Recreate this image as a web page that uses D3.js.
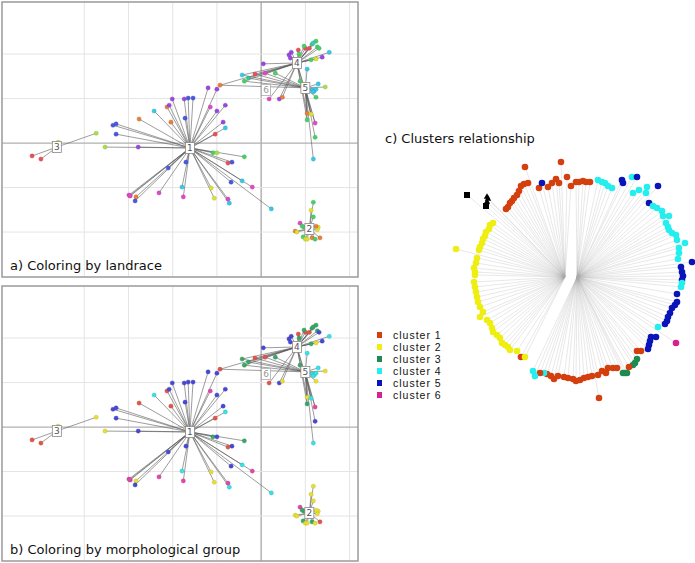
<!DOCTYPE html>
<html>
<head>
<meta charset="utf-8">
<script src="https://cdn.jsdelivr.net/npm/d3@7"></script>
<style>
  body { margin: 0; background: #fff; }
  svg { display: block; }
</style>
</head>
<body>
<div id="chart"></div>
<script>
// PCoA style star graphs (panels a, b) -- coordinates in axis units
const xTicks = [-4, -3, -2, -1, 0, 1, 2];
const yTicks = [-2, -1, 0, 1, 2];

// cluster centres: [id, x, y]
const centres = [
  [1, -1.61, -0.11], [2, 1.09, -1.93], [3, -4.62, -0.09],
  [4, 0.81, 1.80], [5, 1.00, 1.24], [6, 0.11, 1.19]
];

// accessions: [x, y, landrace colour, morphological group, parents]
const points = [
  // cluster 1
  [-2.01, 0.99, "purple", "b", [1]], [-2.13, 0.81, "orange", "r", [1]], [-2.08, 0.85, "purple", "b", [1]],
  [-2.42, 0.72, "cyan", "c", [1]], [-2.04, 0.47, "orange", "r", [1]], [-2.76, 0.54, "orange", "r", [1]],
  [-3.35, 0.40, "blue", "b", [1]], [-3.28, 0.43, "blue", "b", [1]], [-3.28, 0.20, "blue", "b", [1]],
  [-1.74, 0.99, "purple", "b", [1]], [-1.65, 1.01, "blue", "b", [1]], [-1.54, 1.01, "blue", "b", [1]],
  [-1.20, 1.24, "purple", "b", [1]], [-1.00, 1.21, "purple", "b", [1]], [-1.15, 0.81, "magenta", "m", [1]],
  [-1.00, 0.72, "purple", "b", [1]], [-0.81, 0.85, "purple", "b", [1]], [-1.72, 0.56, "blue", "b", [1]],
  [-0.86, 0.47, "purple", "b", [1]], [-0.81, 0.34, "cyan", "c", [1]], [-1.04, 0.20, "red", "r", [1]],
  [-3.53, -0.09, "ygreen", "y", [1]], [-2.78, -0.09, "purple", "b", [1]], [-2.10, -0.56, "blue", "b", [1]],
  [-2.99, -1.17, "magenta", "m", [1]], [-2.96, -1.19, "magenta", "m", [1]], [-2.97, -1.18, "magenta", "m", [1]],
  [-2.83, -1.21, "orange", "y", [1]], [-2.85, -1.30, "blue", "b", [1]], [-2.31, -1.12, "magenta", "m", [1]],
  [-0.38, -0.31, "green", "g", [1]], [-0.66, -0.43, "blue", "b", [1]], [-0.75, -0.45, "red", "r", [1]],
  [-1.09, -0.22, "green", "g", [1]], [-1.00, -0.22, "ygreen", "b", [1]], [-1.70, -0.43, "blue", "b", [1]],
  [-1.79, -0.99, "cyan", "c", [1]], [-1.76, -1.21, "magenta", "m", [1]], [-1.13, -1.01, "yellow", "y", [1]],
  [-1.06, -1.24, "yellow", "y", [1]], [-0.75, -1.26, "magenta", "m", [1]], [-0.72, -1.35, "cyan", "c", [1]],
  [-0.68, -0.88, "blue", "b", [1]], [-0.43, -0.85, "cyan", "c", [1]], [-0.20, -0.99, "magenta", "m", [1]],
  [0.23, -1.48, "cyan", "c", [1]],
  // cluster 3
  [-4.59, 0.02, "yellow", "y", [3]], [-5.18, -0.29, "red", "r", [3]], [-4.98, -0.36, "red", "r", [3]],
  [-3.73, 0.22, "ygreen", "y", [3]],
  // cluster 2
  [1.18, -1.33, "green", "y", [2]], [1.13, -1.51, "yellow", "y", [2]], [1.18, -1.66, "green", "y", [2]],
  [0.88, -1.80, "magenta", "m", [2]], [0.77, -1.98, "orange", "y", [2]], [0.81, -2.00, "yellow", "y", [2]],
  [0.95, -2.11, "green", "g", [2]], [1.00, -2.16, "yellow", "y", [2]], [1.04, -2.16, "yellow", "y", [2]],
  [1.15, -2.13, "orange", "g", [2]], [1.22, -2.16, "green", "y", [2]], [1.33, -2.13, "orange", "r", [2]],
  [1.29, -1.89, "yellow", "y", [2]], [1.27, -1.95, "yellow", "y", [2]], [0.97, -1.89, "green", "g", [2]],
  [1.24, -1.87, "orange", "y", [2]], [0.93, -1.87, "green", "g", [2]],
  // cluster 4
  [0.68, 2.04, "purple", "b", [4]], [0.63, 1.98, "purple", "b", [4]], [0.66, 1.91, "purple", "b", [4]],
  [0.84, 2.09, "red", "r", [4]], [0.86, 2.00, "green", "g", [4]], [1.00, 2.13, "red", "r", [4]],
  [1.09, 2.13, "red", "r", [4]], [0.97, 2.18, "green", "g", [4]], [1.15, 2.22, "green", "g", [4]],
  [1.18, 2.25, "cyan", "g", [4]], [1.24, 2.29, "green", "g", [4]], [1.27, 2.16, "green", "g", [4]],
  [1.31, 2.13, "green", "b", [4]], [1.54, 2.04, "cyan", "c", [4]], [1.38, 1.93, "purple", "b", [4]],
  [1.24, 1.89, "yellow", "y", [4]], [1.13, 1.87, "green", "g", [4]], [0.05, 1.78, "purple", "b", [4]],
  [0.18, 0.99, "magenta", "r", [4]], [0.41, 0.99, "purple", "b", [4]], [0.48, 1.03, "orange", "y", [4]],
  // between 4 and 5
  [-0.93, 1.30, "orange", "r", [4, 5]], [-0.43, 1.53, "cyan", "g", [4, 5]], [-0.38, 1.39, "green", "g", [4, 5]],
  [-0.29, 1.46, "teal", "g", [4, 5]], [-0.14, 1.55, "red", "r", [4, 5]], [0.09, 1.57, "magenta", "r", [4, 5]],
  [0.32, 1.57, "green", "g", [5]],
  // cluster 5
  [1.04, 1.66, "cyan", "c", [5]], [0.88, 1.39, "green", "g", [5]], [1.29, 1.33, "cyan", "c", [5]],
  [1.45, 1.26, "ygreen", "y", [5]], [1.15, 1.19, "cyan", "c", [5]], [1.20, 1.17, "cyan", "c", [5]],
  [1.24, 1.21, "cyan", "c", [5]], [1.18, 1.15, "cyan", "c", [5]], [1.24, 1.03, "green", "y", [5]],
  [1.04, 0.67, "orange", "y", [4, 5]], [1.13, 0.65, "yellow", "c", [4, 5]], [1.04, 0.52, "green", "g", [4, 5]],
  [1.22, 0.45, "magenta", "m", [4, 5]], [1.22, 0.13, "green", "b", [5]], [1.18, -0.36, "cyan", "c", [5]]
];

const landraceColors = {
  red: "#e8505a", orange: "#e8803a", yellow: "#e0e030", ygreen: "#a8e048", green: "#48d068",
  teal: "#30c898", cyan: "#38c8e8", blue: "#4858e0", purple: "#9848e0", magenta: "#e048c8"
};
const morphColors = { r: "#e05548", y: "#e8e030", g: "#38a868", c: "#38e0e8", b: "#4848d8", m: "#e048a8" };

// panel c: leaves of the circular tree [dx, dy, cluster] relative to the root (0 = square, 7 = triangle)
const leaves = [
  [-107,-84,0],[-88,-73,0],[-87,-82,7],[-86,-80,7],[-87,-77,7],
  [-68,-70,1],[-66,-72,1],[-64,-76,1],[-62,-78,1],[-60,-81,1],[-57,-84,1],[-55,-88,1],[-53,-93,1],
  [-50,-95,1],[-46,-96,1],[-49,-112,1],[-35,-91,1],[-32,-96,5],[-26,-92,1],[-22,-96,1],[-18,-100,1],
  [-15,-96,1],[-13,-117,1],[-7,-102,1],[-3,-93,1],[2,-97,1],[5,-97,1],[9,-98,1],[12,-97,1],[16,-97,1],
  [24,-99,4],[28,-97,4],[31,-96,4],[34,-93,4],[38,-91,4],[48,-99,5],[49,-96,5],[58,-102,4],[63,-102,5],
  [59,-86,4],[65,-89,4],[72,-86,4],[73,-92,4],[84,-93,5],[75,-76,5],
  [79,-73,4],[83,-71,4],[88,-68,4],[89,-63,4],[95,-63,4],[92,-56,4],[94,-52,4],[95,-49,4],[98,-46,4],
  [102,-44,4],[103,-39,4],[111,-36,4],[105,-31,4],[105,-26,4],[104,-20,4],[118,-17,5],
  [107,-12,5],[108,-7,5],[109,-3,5],[108,1,5],[108,4,4],[107,8,4],
  [103,15,5],[103,23,5],[101,26,5],[98,29,5],[96,34,5],[94,38,5],[93,42,5],[91,45,5],[84,48,4],
  [102,64,6],[82,58,5],[77,58,5],[76,62,5],[75,66,5],[74,70,5],[67,72,1],[63,72,1],
  [63,80,3],[61,84,3],[59,86,3],[55,88,1],[53,94,3],[51,94,3],[49,94,3],
  [43,89,1],[39,89,1],[34,89,1],[32,94,1],[28,92,1],[24,96,1],[25,119,1],
  [18,97,1],[14,98,1],[10,99,1],[6,101,1],[2,102,1],[-1,100,1],[-6,99,1],[-10,98,1],[-16,97,1],
  [-20,100,1],[-23,97,1],[-27,95,1],[-30,94,4],[-34,94,1],[-41,92,4],[-39,97,4],
  [-53,78,1],[-49,78,2],[-57,72,2],[-64,71,2],[-66,68,2],[-69,66,2],[-72,64,2],[-74,59,2],[-77,56,2],
  [-81,53,2],[-82,49,2],[-84,44,2],[-87,41,2],[-94,38,2],[-91,33,2],[-94,28,2],[-96,23,2],[-97,18,2],
  [-98,13,2],[-99,8,2],[-100,3,2],[-99,-4,2],[-99,-7,2],[-100,-11,2],[-98,-16,2],[-97,-21,2],
  [-95,-29,2],[-94,-32,2],[-92,-36,2],[-91,-40,2],[-89,-43,2],[-88,-47,2],[-85,-50,2],[-84,-54,2],
  [-81,-56,2],[-118,-30,2]
];
// the two root branches the leaves hang from
const hubs = [[-9, -2], [3, -2]];

const clusterNames = ["cluster 1", "cluster 2", "cluster 3", "cluster 4", "cluster 5", "cluster 6"];
const clusterColors = ["#d43f0e", "#eeee12", "#1f8a50", "#24eeee", "#0a14b8", "#d82090"];

const W = 695, H = 563;
const svg = d3.select("#chart").append("svg")
  .attr("width", W).attr("height", H)
  .style("font-family", "'DejaVu Sans', Verdana, sans-serif");
svg.append("rect").attr("width", W).attr("height", H).attr("fill", "#fff");

function drawPanel(top, colorOf, label) {
  const x = d3.scaleLinear().domain([-5.86, 2.19]).range([2, 358]);
  const y = d3.scaleLinear().domain([-3.01, 3.17]).range([top + 275, top]);
  const g = svg.append("g");

  g.selectAll(".gx").data(xTicks).enter().append("line")
    .attr("x1", d => x(d)).attr("x2", d => x(d))
    .attr("y1", top).attr("y2", top + 275)
    .attr("stroke", d => d === 0 ? "#a8a8a8" : "#e4e4e4")
    .attr("stroke-width", d => d === 0 ? 1.3 : 1);
  g.selectAll(".gy").data(yTicks).enter().append("line")
    .attr("y1", d => y(d)).attr("y2", d => y(d))
    .attr("x1", 2).attr("x2", 358)
    .attr("stroke", d => d === 0 ? "#b0b0b0" : "#e4e4e4")
    .attr("stroke-width", d => d === 0 ? 1.3 : 1);

  const byId = new Map(centres.map(c => [c[0], c]));
  const links = [];
  points.forEach(p => p[4].forEach(id => links.push([p, byId.get(id)])));

  g.selectAll(".link").data(links).enter().append("line")
    .attr("x1", d => x(d[0][0])).attr("y1", d => y(d[0][1]))
    .attr("x2", d => x(d[1][1])).attr("y2", d => y(d[1][2]))
    .attr("stroke", "#5a5a5a").attr("stroke-width", 0.7).attr("stroke-opacity", 0.85);

  g.selectAll(".pt").data(points).enter().append("circle")
    .attr("cx", d => x(d[0])).attr("cy", d => y(d[1])).attr("r", 2.1)
    .attr("fill", d => colorOf(d))
    .attr("stroke", d => d3.color(colorOf(d)).darker(0.6)).attr("stroke-width", 0.4);

  const nodes = g.selectAll(".node").data(centres).enter().append("g")
    .attr("transform", d => `translate(${x(d[1])},${y(d[2])})`);
  nodes.append("rect").attr("x", -4.5).attr("y", -5.5).attr("width", 9).attr("height", 11)
    .attr("fill", "#fff").attr("stroke", d => d[0] === 6 ? "#aaa" : "#888").attr("stroke-width", 0.8);
  nodes.append("text").attr("text-anchor", "middle").attr("dy", "0.35em")
    .attr("font-size", 9).attr("fill", d => d[0] === 6 ? "#999" : "#555").text(d => d[0]);

  g.append("rect").attr("x", 2).attr("y", top).attr("width", 356).attr("height", 275)
    .attr("fill", "none").attr("stroke", "#a0a0a0").attr("stroke-width", 1.6);
  g.append("text").attr("x", 10).attr("y", top + 268)
    .attr("font-size", 13).attr("fill", "#111").text(label);
}

drawPanel(2, d => landraceColors[d[2]], "a) Coloring by landrace");
drawPanel(286, d => morphColors[d[3]], "b) Coloring by morphological group");

// legend
const legend = svg.append("g").attr("transform", "translate(377,335)");
const li = legend.selectAll("g").data(clusterNames).enter().append("g")
  .attr("transform", (d, i) => `translate(0,${i * 12})`);
li.append("rect").attr("x", 0).attr("y", -3).attr("width", 5).attr("height", 6)
  .attr("fill", (d, i) => clusterColors[i]);
li.append("text").attr("x", 16).attr("y", 4)
  .attr("font-family", "'Liberation Sans', Arial, sans-serif")
  .attr("font-size", 10.5).attr("letter-spacing", 1).attr("fill", "#111").text(d => d);

// panel c
svg.append("text").attr("x", 385).attr("y", 143)
  .attr("font-size", 13).attr("fill", "#111").text("c) Clusters relationship");

const cx = d3.scaleLinear().domain([-130, 130]).range([574 - 130, 574 + 130]);
const cy = d3.scaleLinear().domain([-130, 130]).range([279 - 130, 279 + 130]);
const tree = svg.append("g");

// leaves clockwise from the bottom-left gap up to north hang from the left hub
const hubOf = d => {
  const a = (Math.atan2(d[0], -d[1]) * 180 / Math.PI + 360) % 360;
  return a > 208 ? hubs[0] : hubs[1];
};

tree.selectAll(".branch").data(leaves).enter().append("line")
  .attr("x1", d => cx(hubOf(d)[0])).attr("y1", d => cy(hubOf(d)[1]))
  .attr("x2", d => cx(d[0])).attr("y2", d => cy(d[1]))
  .attr("stroke", "#aaa").attr("stroke-width", 0.45).attr("stroke-opacity", 0.6);

tree.selectAll(".leaf").data(leaves.filter(d => d[2] >= 1 && d[2] <= 6)).enter().append("circle")
  .attr("cx", d => cx(d[0])).attr("cy", d => cy(d[1])).attr("r", 3.3)
  .attr("fill", d => clusterColors[d[2] - 1]);

tree.selectAll(".sq").data(leaves.filter(d => d[2] === 0)).enter().append("rect")
  .attr("x", d => cx(d[0]) - 3).attr("y", d => cy(d[1]) - 3)
  .attr("width", 6).attr("height", 6).attr("fill", "#000");

tree.selectAll(".tri").data(leaves.filter(d => d[2] === 7)).enter().append("path")
  .attr("transform", d => `translate(${cx(d[0])},${cy(d[1])})`)
  .attr("d", d3.symbol().type(d3.symbolTriangle).size(18))
  .attr("fill", "#000");
</script>
</body>
</html>
